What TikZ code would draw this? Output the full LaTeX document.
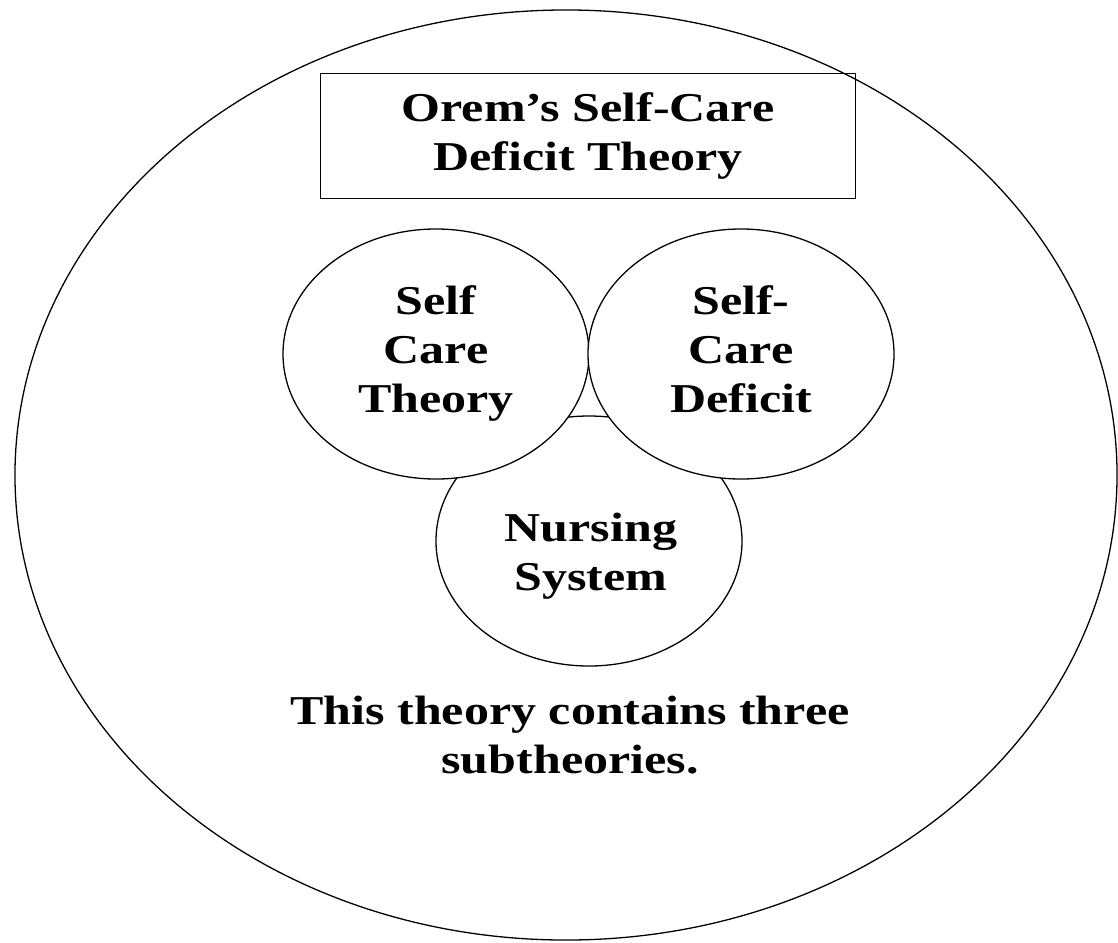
\documentclass[tikz,border=0pt]{standalone}
\usepackage{fontspec}
\setmainfont{Liberation Serif}[FakeStretch=1.22]
\usetikzlibrary{shapes.geometric}
\begin{document}
\begin{tikzpicture}[x=0.03cm,y=-0.03cm,
  label text/.style={align=center,font=\bfseries\fontsize{35}{42}\selectfont},
  subtheory/.style={draw,ellipse,fill=white,line width=1.1pt,minimum width=9.18cm,minimum height=7.5cm,inner sep=0pt,text depth=8pt,label text}]
\useasboundingbox (0,0) rectangle (1118,942);
\node[draw,ellipse,line width=1.1pt,minimum width=33.06cm,minimum height=27.9cm,inner sep=0pt] (orem) at (566,475) {};
\node[draw,line width=1.4pt,minimum width=16.05cm,minimum height=3.75cm,label text] (title) at (588,136) {Orem's Self-Care\\Deficit Theory};
\node[subtheory] (nursing) at (589,541) {};
\node[label text] (nursing text) at (591,556) {Nursing\\System};
\node[subtheory] (selfcare) at (436,354) {Self\\Care\\Theory};
\node[subtheory] (deficit) at (741,354) {Self-\\Care\\Deficit};
\node[label text] (note) at (570,735) {This theory contains three\\subtheories.};
\end{tikzpicture}
\end{document}
